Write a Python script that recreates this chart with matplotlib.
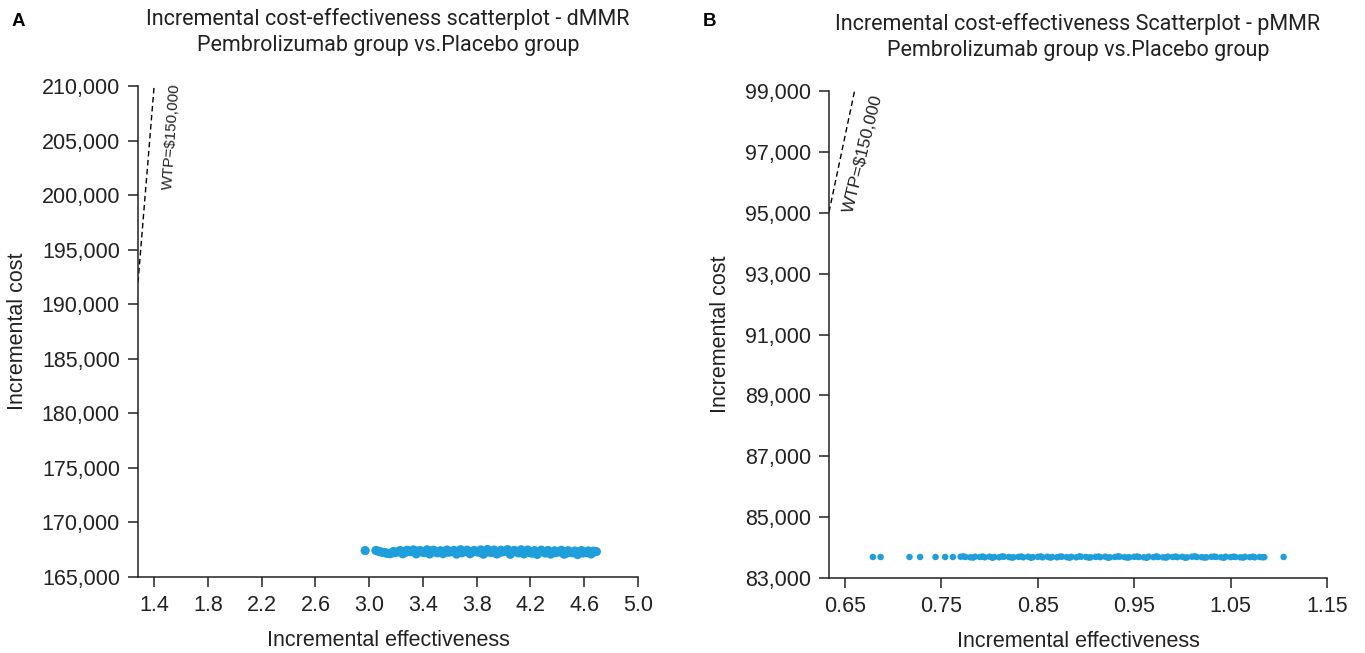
import matplotlib
matplotlib.use("Agg")
import matplotlib.pyplot as plt
import numpy as np

# ---------------- data ----------------
# Panel A (dMMR) scatter
a_eff = [2.97, 3.05, 3.08, 3.10, 3.13, 3.16, 3.19, 3.21, 3.24, 3.27, 3.29, 3.31, 3.34, 3.36,
         3.39, 3.41, 3.44, 3.46, 3.49, 3.51, 3.54, 3.56, 3.59, 3.61, 3.64, 3.66, 3.69, 3.71,
         3.74, 3.76, 3.79, 3.81, 3.84, 3.86, 3.89, 3.91, 3.94, 3.96, 3.99, 4.01, 4.04, 4.06,
         4.09, 4.11, 4.14, 4.16, 4.19, 4.21, 4.24, 4.26, 4.29, 4.31, 4.34, 4.36, 4.39, 4.41,
         4.44, 4.46, 4.49, 4.51, 4.54, 4.56, 4.59, 4.61, 4.64, 4.66, 4.69,
         3.07, 3.12, 3.18, 3.23, 3.28, 3.33, 3.38, 3.43, 3.48, 3.53, 3.58, 3.63, 3.68, 3.73,
         3.78, 3.83, 3.88, 3.93, 3.98, 4.03, 4.08, 4.13, 4.18, 4.23, 4.28, 4.33, 4.38, 4.43,
         4.48, 4.53, 4.58, 4.63, 4.67,
         3.15, 3.25, 3.35, 3.45, 3.55, 3.65, 3.75, 3.85, 3.95, 4.05, 4.15, 4.25, 4.35, 4.45,
         4.55, 4.65]
a_cost = [167420, 167430, 167310, 167260, 167180, 167150, 167230, 167300, 167350, 167260, 167410, 167320, 167280, 167370,
          167300, 167240, 167330, 167380, 167290, 167220, 167310, 167350, 167270, 167330, 167250, 167300, 167220, 167340,
          167300, 167230, 167360, 167280, 167210, 167330, 167290, 167250, 167340, 167200, 167300, 167360, 167240, 167280,
          167330, 167210, 167290, 167350, 167250, 167180, 167300, 167240, 167320, 167200, 167270, 167180, 167250, 167300,
          167210, 167150, 167260, 167230, 167170, 167280, 167200, 167240, 167270, 167230, 167330,
          167360, 167230, 167340, 167420, 167450, 167480, 167420, 167490, 167450, 167410, 167470, 167440, 167500, 167460,
          167430, 167480, 167520, 167470, 167450, 167510, 167440, 167490, 167470, 167420, 167460, 167430, 167400, 167450,
          167410, 167380, 167420, 167390, 167370,
          167150, 167130, 167120, 167110, 167140, 167100, 167130, 167090, 167110, 167080, 167120, 167070, 167100, 167090,
          167060, 167110]

# Panel B (pMMR) scatter
b_eff = [0.679, 0.687, 0.717, 0.728, 0.744, 0.754, 0.762,
         0.770, 0.775, 0.780, 0.785, 0.790, 0.795, 0.800, 0.805, 0.810, 0.815, 0.820, 0.825, 0.830,
         0.835, 0.840, 0.845, 0.850, 0.855, 0.860, 0.865, 0.870, 0.875, 0.880, 0.885, 0.890, 0.895,
         0.900, 0.905, 0.910, 0.915, 0.920, 0.925, 0.930, 0.935, 0.940, 0.945, 0.950, 0.955, 0.960,
         0.965, 0.970, 0.975, 0.980, 0.985, 0.990, 0.995, 1.000, 1.005, 1.010, 1.015, 1.020, 1.025,
         1.030, 1.035, 1.040, 1.045, 1.050, 1.055, 1.060, 1.065, 1.070, 1.075, 1.080, 1.085,
         0.773, 0.783, 0.793, 0.803, 0.813, 0.823, 0.833, 0.843, 0.853, 0.863, 0.873, 0.883, 0.893,
         0.903, 0.913, 0.923, 0.933, 0.943, 0.953, 0.963, 0.973, 0.983, 0.993, 1.003, 1.013, 1.023,
         1.033, 1.043, 1.053, 1.063, 1.073, 1.083,
         1.105]
b_cost = [83690, 83690, 83690, 83690, 83690, 83690, 83690,
          83700, 83690, 83680, 83700, 83690, 83680, 83700, 83690, 83680, 83700, 83690, 83680, 83695,
          83680, 83700, 83685, 83695, 83680, 83700, 83690, 83680, 83700, 83685, 83695, 83680, 83700,
          83690, 83680, 83695, 83685, 83700, 83680, 83690, 83700, 83685, 83680, 83695, 83690, 83680,
          83700, 83685, 83690, 83680, 83700, 83690, 83685, 83695, 83680, 83700, 83690, 83685, 83680,
          83695, 83690, 83680, 83700, 83685, 83690, 83680, 83695, 83685, 83680, 83690, 83685,
          83710, 83670, 83705, 83665, 83710, 83670, 83705, 83665, 83710, 83670, 83705, 83665, 83710,
          83670, 83705, 83665, 83710, 83670, 83705, 83665, 83710, 83670, 83705, 83665, 83710, 83670,
          83705, 83665, 83700, 83670, 83700, 83680,
          83690]

wtp = 150000
a_xticks = [1.4, 1.8, 2.2, 2.6, 3.0, 3.4, 3.8, 4.2, 4.6, 5.0]
a_yticks = [165000, 170000, 175000, 180000, 185000, 190000, 195000, 200000, 205000, 210000]
b_xticks = [0.65, 0.75, 0.85, 0.95, 1.05, 1.15]
b_yticks = [83000, 85000, 87000, 89000, 91000, 93000, 95000, 97000, 99000]

title_a = "Incremental cost-effectiveness scatterplot - dMMR\nPembrolizumab group vs.Placebo group"
title_b = "Incremental cost-effectiveness Scatterplot - pMMR\nPembrolizumab group vs.Placebo group"

# ---------------- figure ----------------
W, H = 1365, 653
fig = plt.figure(figsize=(W / 100, H / 100), dpi=100)
plt.rcParams['font.family'] = ['Liberation Sans', 'DejaVu Sans']

color = '#1f9edc'


def px_axes(l, r, b, t):
    return fig.add_axes([l / W, 1 - b / H, (r - l) / W, (b - t) / H])


def style(ax, xticks, yticks, xlabels, ylabels):
    for s in ['top', 'right']:
        ax.spines[s].set_visible(False)
    for s in ['left', 'bottom']:
        ax.spines[s].set_linewidth(1.1)
        ax.spines[s].set_color('#222222')
    ax.set_xticks(xticks)
    ax.set_xticklabels(xlabels)
    ax.set_yticks(yticks)
    ax.set_yticklabels(ylabels)
    ax.tick_params(axis='both', direction='out', length=7, width=1.1, labelsize=15.5,
                   colors='#222222', labelcolor='#222222')
    ax.tick_params(axis='x', pad=6)
    ax.tick_params(axis='y', pad=6)
    ax.set_xlabel("Incremental effectiveness", fontsize=15.5, labelpad=10, color='#222222')
    ax.set_ylabel("Incremental cost", fontsize=15.5, labelpad=10, color='#222222')


# Panel A
axA = px_axes(138, 638, 577, 86)
axA.scatter(a_eff, a_cost, s=44, color=color, edgecolors='none', zorder=3)
axA.set_xlim(1.28, 5.0)
axA.set_ylim(165000, 210000)
xl = np.array([1.28, 1.4])
axA.plot(xl, wtp * xl, lw=1.0, color='black', dashes=(4, 2.5))
style(axA, a_xticks, a_yticks, [f"{v:.1f}" for v in a_xticks], [f"{v:,}" for v in a_yticks])
axA.text(1.534, 200450, "WTP=$150,000", rotation=86, fontsize=11, color='#222222',
         ha='left', va='baseline', rotation_mode='anchor')
axA.set_title(title_a, fontsize=15.5, family='Roboto', color='#222222', pad=25, linespacing=1.3)

# Panel B
axB = px_axes(829, 1327, 578, 91)
axB.scatter(b_eff, b_cost, s=22, color=color, edgecolors='none', zorder=3)
axB.set_xlim(0.6335, 1.15)
axB.set_ylim(83000, 99000)
xl = np.array([0.6335, 0.66])
axB.plot(xl, wtp * xl, lw=1.0, color='black', dashes=(4, 2.5))
style(axB, b_xticks, b_yticks, [f"{v:.2f}" for v in b_xticks], [f"{v:,}" for v in b_yticks])
axB.text(0.6588, 94960, "WTP=$150,000", rotation=76, fontsize=12.5, color='#222222',
         ha='left', va='baseline', rotation_mode='anchor')
axB.set_title(title_b, fontsize=15.5, family='Roboto', color='#222222', pad=25, linespacing=1.3)

# Panel letters
fig.text(18 / W, 1 - 22 / H, "A", fontsize=13.5, fontweight='bold', va='center', ha='center')
fig.text(710 / W, 1 - 22 / H, "B", fontsize=13.5, fontweight='bold', va='center', ha='center')

fig.savefig("out.png", dpi=100)
